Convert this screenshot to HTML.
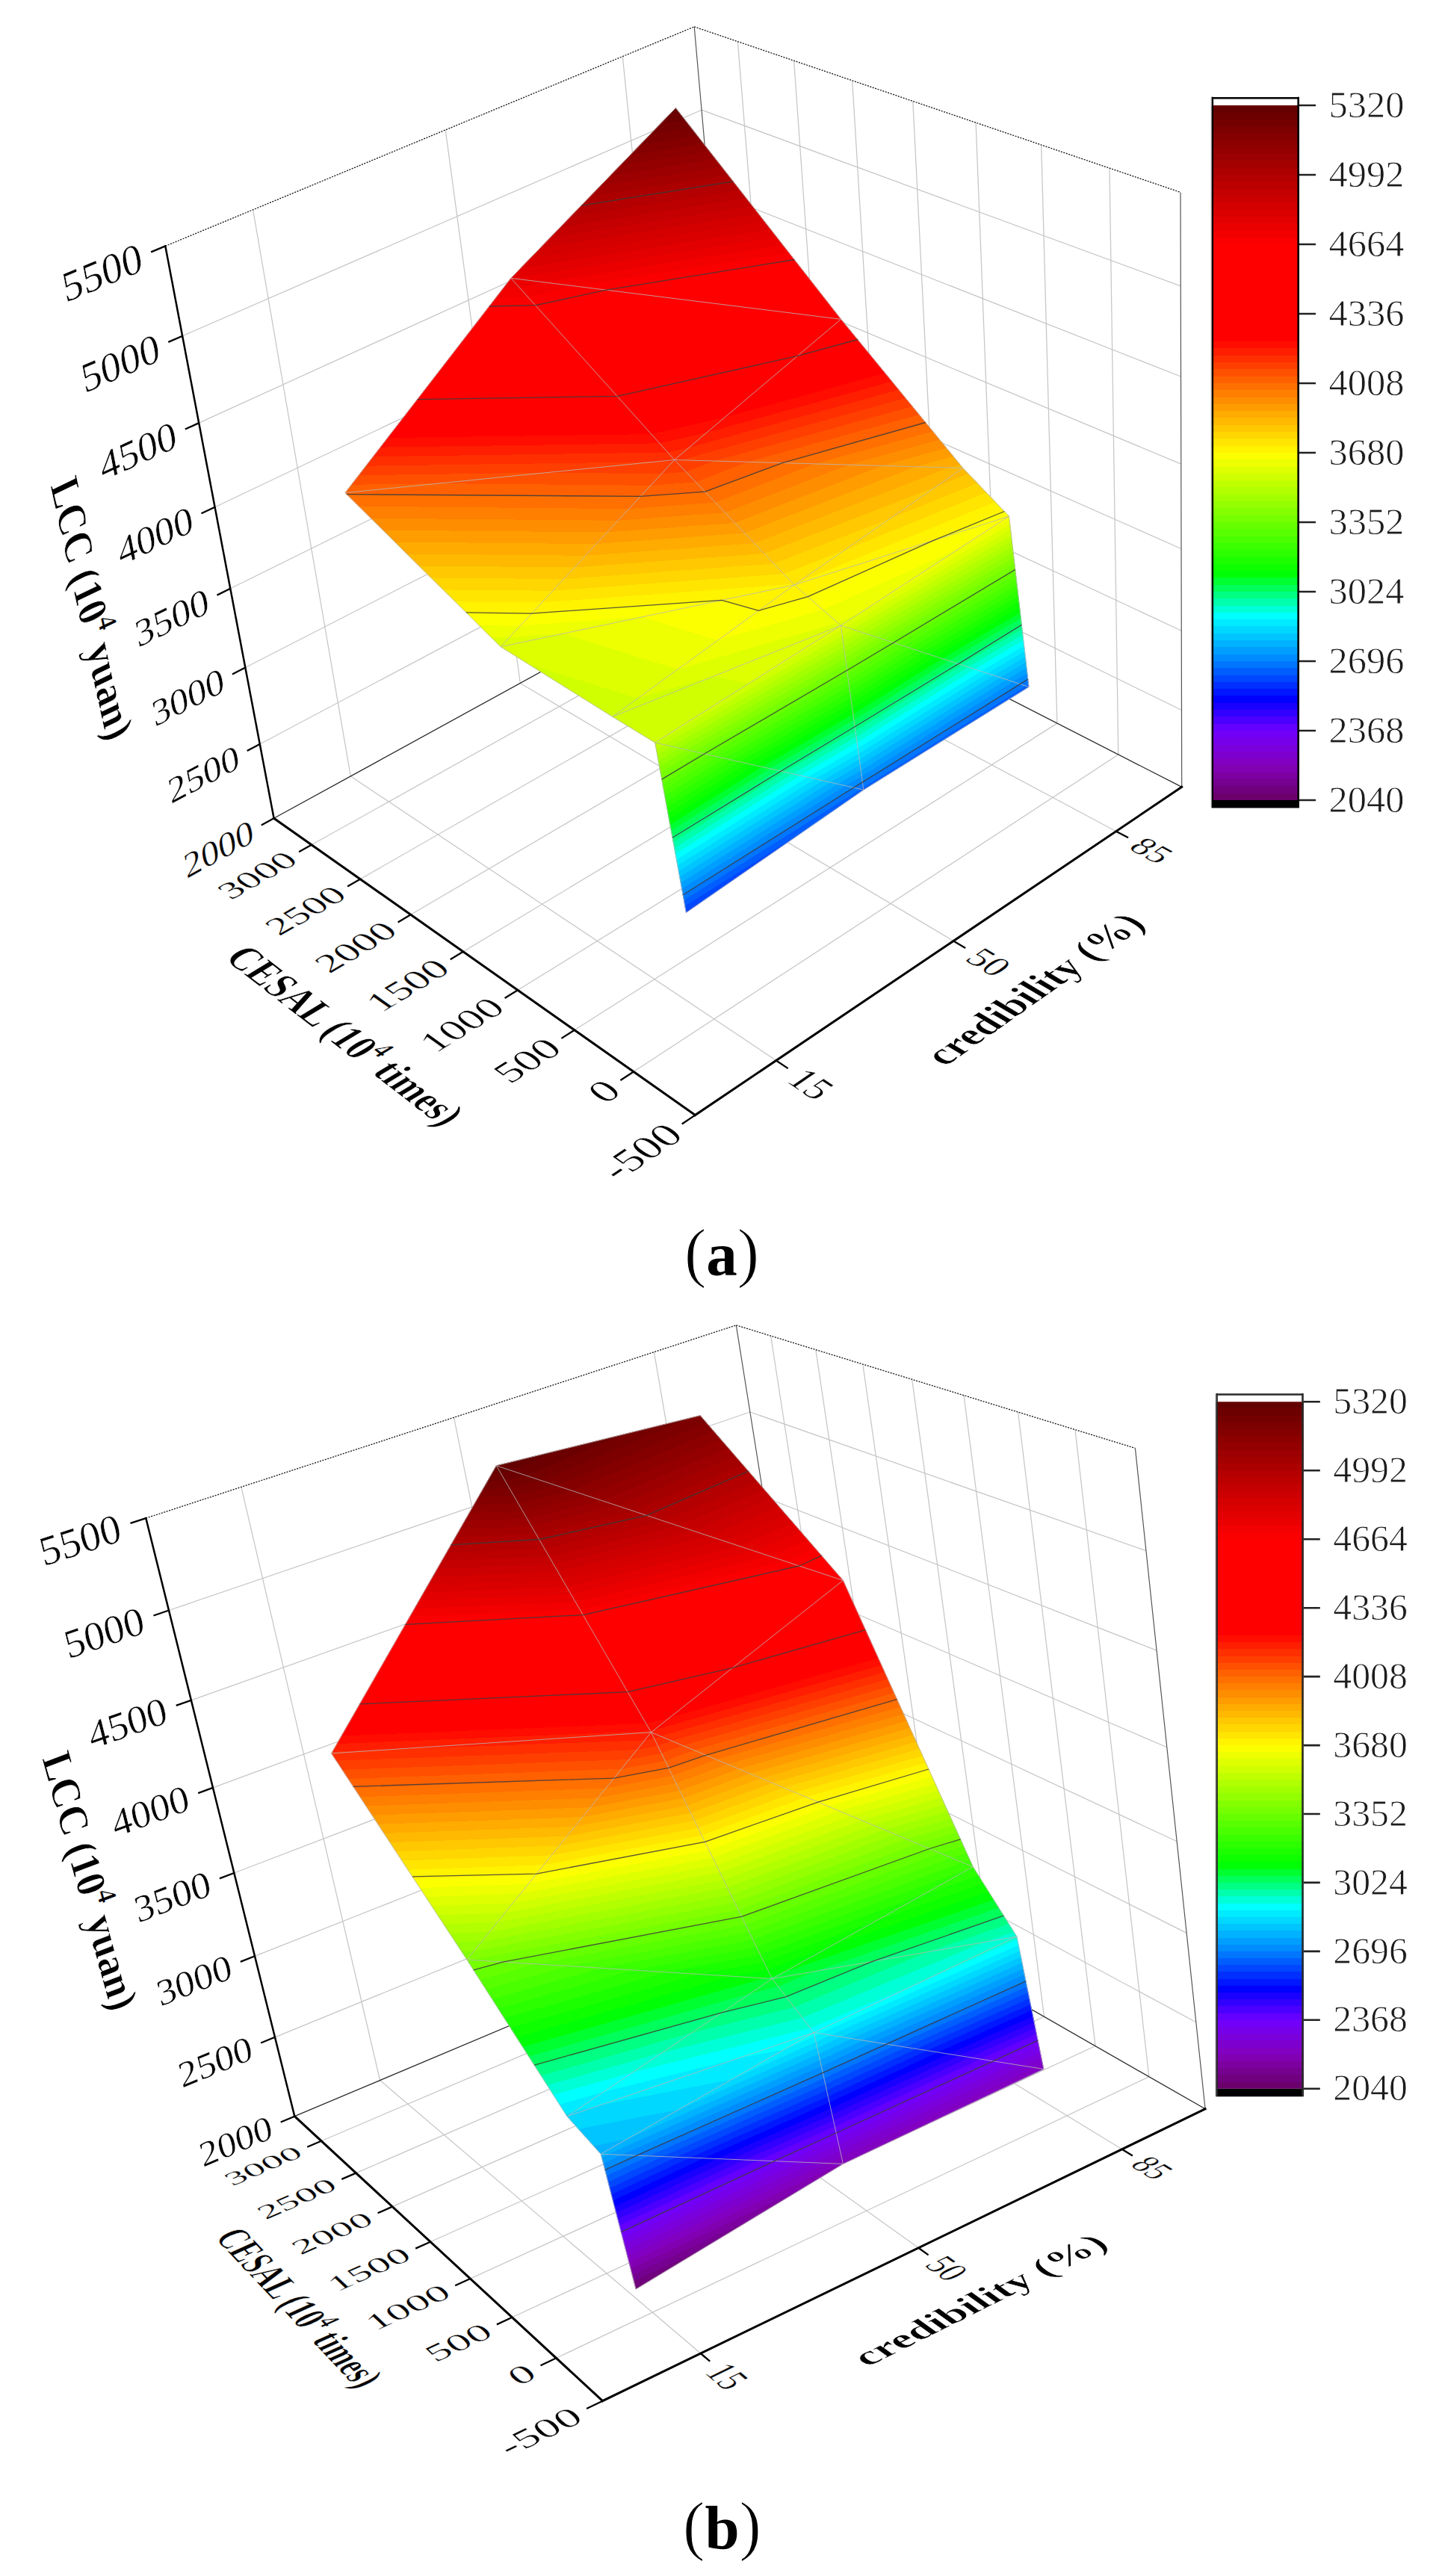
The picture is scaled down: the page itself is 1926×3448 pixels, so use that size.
<!DOCTYPE html>
<html><head><meta charset="utf-8"><title>LCC surface plots</title><style>html,body{margin:0;padding:0;background:#fff}svg{display:block}</style></head><body>
<svg width="1926" height="3448" viewBox="0 0 1926 3448" font-family="'Liberation Serif', serif">
<defs><linearGradient id="cm"><stop offset="0" stop-color="#6b006d"/><stop offset="0.01" stop-color="#6b006d"/><stop offset="0.01" stop-color="#70007e"/><stop offset="0.02" stop-color="#70007e"/><stop offset="0.02" stop-color="#76008f"/><stop offset="0.03" stop-color="#76008f"/><stop offset="0.03" stop-color="#7c00a0"/><stop offset="0.04" stop-color="#7c00a0"/><stop offset="0.04" stop-color="#8100b1"/><stop offset="0.05" stop-color="#8100b1"/><stop offset="0.05" stop-color="#8200c1"/><stop offset="0.06" stop-color="#8200c1"/><stop offset="0.06" stop-color="#7e00cf"/><stop offset="0.07" stop-color="#7e00cf"/><stop offset="0.07" stop-color="#7a00dc"/><stop offset="0.08" stop-color="#7a00dc"/><stop offset="0.08" stop-color="#7600ea"/><stop offset="0.09" stop-color="#7600ea"/><stop offset="0.09" stop-color="#7200f8"/><stop offset="0.1" stop-color="#7200f8"/><stop offset="0.1" stop-color="#6400ff"/><stop offset="0.11" stop-color="#6400ff"/><stop offset="0.11" stop-color="#4b00ff"/><stop offset="0.12" stop-color="#4b00ff"/><stop offset="0.12" stop-color="#3200ff"/><stop offset="0.13" stop-color="#3200ff"/><stop offset="0.13" stop-color="#1900ff"/><stop offset="0.14" stop-color="#1900ff"/><stop offset="0.14" stop-color="#0000ff"/><stop offset="0.15" stop-color="#0000ff"/><stop offset="0.15" stop-color="#0017ff"/><stop offset="0.16" stop-color="#0017ff"/><stop offset="0.16" stop-color="#002fff"/><stop offset="0.17" stop-color="#002fff"/><stop offset="0.17" stop-color="#0047ff"/><stop offset="0.18" stop-color="#0047ff"/><stop offset="0.18" stop-color="#005eff"/><stop offset="0.19" stop-color="#005eff"/><stop offset="0.19" stop-color="#0076ff"/><stop offset="0.2" stop-color="#0076ff"/><stop offset="0.2" stop-color="#008cff"/><stop offset="0.21" stop-color="#008cff"/><stop offset="0.21" stop-color="#009fff"/><stop offset="0.22" stop-color="#009fff"/><stop offset="0.22" stop-color="#00b2ff"/><stop offset="0.23" stop-color="#00b2ff"/><stop offset="0.23" stop-color="#00c5ff"/><stop offset="0.24" stop-color="#00c5ff"/><stop offset="0.24" stop-color="#00d8ff"/><stop offset="0.25" stop-color="#00d8ff"/><stop offset="0.25" stop-color="#00ebff"/><stop offset="0.26" stop-color="#00ebff"/><stop offset="0.26" stop-color="#00ffff"/><stop offset="0.27" stop-color="#00ffff"/><stop offset="0.27" stop-color="#00ffd6"/><stop offset="0.28" stop-color="#00ffd6"/><stop offset="0.28" stop-color="#00ffad"/><stop offset="0.29" stop-color="#00ffad"/><stop offset="0.29" stop-color="#00ff83"/><stop offset="0.3" stop-color="#00ff83"/><stop offset="0.3" stop-color="#00ff5a"/><stop offset="0.31" stop-color="#00ff5a"/><stop offset="0.31" stop-color="#00ff30"/><stop offset="0.32" stop-color="#00ff30"/><stop offset="0.32" stop-color="#00ff06"/><stop offset="0.33" stop-color="#00ff06"/><stop offset="0.33" stop-color="#0dff00"/><stop offset="0.34" stop-color="#0dff00"/><stop offset="0.34" stop-color="#1cff00"/><stop offset="0.35" stop-color="#1cff00"/><stop offset="0.35" stop-color="#2bff00"/><stop offset="0.36" stop-color="#2bff00"/><stop offset="0.36" stop-color="#3aff00"/><stop offset="0.37" stop-color="#3aff00"/><stop offset="0.37" stop-color="#49ff00"/><stop offset="0.38" stop-color="#49ff00"/><stop offset="0.38" stop-color="#57ff00"/><stop offset="0.39" stop-color="#57ff00"/><stop offset="0.39" stop-color="#66ff00"/><stop offset="0.4" stop-color="#66ff00"/><stop offset="0.4" stop-color="#75ff00"/><stop offset="0.41" stop-color="#75ff00"/><stop offset="0.41" stop-color="#84ff00"/><stop offset="0.42" stop-color="#84ff00"/><stop offset="0.42" stop-color="#93ff00"/><stop offset="0.43" stop-color="#93ff00"/><stop offset="0.43" stop-color="#a2ff00"/><stop offset="0.44" stop-color="#a2ff00"/><stop offset="0.44" stop-color="#b1ff00"/><stop offset="0.45" stop-color="#b1ff00"/><stop offset="0.45" stop-color="#c0ff00"/><stop offset="0.46" stop-color="#c0ff00"/><stop offset="0.46" stop-color="#cfff00"/><stop offset="0.47" stop-color="#cfff00"/><stop offset="0.47" stop-color="#deff00"/><stop offset="0.48" stop-color="#deff00"/><stop offset="0.48" stop-color="#edff00"/><stop offset="0.49" stop-color="#edff00"/><stop offset="0.49" stop-color="#fcff00"/><stop offset="0.5" stop-color="#fcff00"/><stop offset="0.5" stop-color="#fff300"/><stop offset="0.51" stop-color="#fff300"/><stop offset="0.51" stop-color="#ffe500"/><stop offset="0.52" stop-color="#ffe500"/><stop offset="0.52" stop-color="#ffd600"/><stop offset="0.53" stop-color="#ffd600"/><stop offset="0.53" stop-color="#ffc800"/><stop offset="0.54" stop-color="#ffc800"/><stop offset="0.54" stop-color="#ffb900"/><stop offset="0.55" stop-color="#ffb900"/><stop offset="0.55" stop-color="#ffab00"/><stop offset="0.56" stop-color="#ffab00"/><stop offset="0.56" stop-color="#ff9c00"/><stop offset="0.57" stop-color="#ff9c00"/><stop offset="0.57" stop-color="#ff8d00"/><stop offset="0.58" stop-color="#ff8d00"/><stop offset="0.58" stop-color="#ff7f00"/><stop offset="0.59" stop-color="#ff7f00"/><stop offset="0.59" stop-color="#ff7000"/><stop offset="0.6" stop-color="#ff7000"/><stop offset="0.6" stop-color="#ff6100"/><stop offset="0.61" stop-color="#ff6100"/><stop offset="0.61" stop-color="#ff5000"/><stop offset="0.62" stop-color="#ff5000"/><stop offset="0.62" stop-color="#ff3f00"/><stop offset="0.63" stop-color="#ff3f00"/><stop offset="0.63" stop-color="#ff2f00"/><stop offset="0.64" stop-color="#ff2f00"/><stop offset="0.64" stop-color="#ff1e00"/><stop offset="0.65" stop-color="#ff1e00"/><stop offset="0.65" stop-color="#ff0d00"/><stop offset="0.66" stop-color="#ff0d00"/><stop offset="0.66" stop-color="#ff0000"/><stop offset="0.67" stop-color="#ff0000"/><stop offset="0.67" stop-color="#ff0000"/><stop offset="0.68" stop-color="#ff0000"/><stop offset="0.68" stop-color="#ff0000"/><stop offset="0.69" stop-color="#ff0000"/><stop offset="0.69" stop-color="#ff0000"/><stop offset="0.7" stop-color="#ff0000"/><stop offset="0.7" stop-color="#ff0000"/><stop offset="0.71" stop-color="#ff0000"/><stop offset="0.71" stop-color="#ff0000"/><stop offset="0.72" stop-color="#ff0000"/><stop offset="0.72" stop-color="#ff0000"/><stop offset="0.73" stop-color="#ff0000"/><stop offset="0.73" stop-color="#ff0000"/><stop offset="0.74" stop-color="#ff0000"/><stop offset="0.74" stop-color="#ff0000"/><stop offset="0.75" stop-color="#ff0000"/><stop offset="0.75" stop-color="#ff0000"/><stop offset="0.76" stop-color="#ff0000"/><stop offset="0.76" stop-color="#ff0000"/><stop offset="0.77" stop-color="#ff0000"/><stop offset="0.77" stop-color="#ff0000"/><stop offset="0.78" stop-color="#ff0000"/><stop offset="0.78" stop-color="#ff0000"/><stop offset="0.79" stop-color="#ff0000"/><stop offset="0.79" stop-color="#ff0000"/><stop offset="0.8" stop-color="#ff0000"/><stop offset="0.8" stop-color="#fb0000"/><stop offset="0.81" stop-color="#fb0000"/><stop offset="0.81" stop-color="#f30000"/><stop offset="0.82" stop-color="#f30000"/><stop offset="0.82" stop-color="#eb0000"/><stop offset="0.83" stop-color="#eb0000"/><stop offset="0.83" stop-color="#e30000"/><stop offset="0.84" stop-color="#e30000"/><stop offset="0.84" stop-color="#db0000"/><stop offset="0.85" stop-color="#db0000"/><stop offset="0.85" stop-color="#d40000"/><stop offset="0.86" stop-color="#d40000"/><stop offset="0.86" stop-color="#cc0000"/><stop offset="0.87" stop-color="#cc0000"/><stop offset="0.87" stop-color="#c40000"/><stop offset="0.88" stop-color="#c40000"/><stop offset="0.88" stop-color="#bc0000"/><stop offset="0.89" stop-color="#bc0000"/><stop offset="0.89" stop-color="#b40000"/><stop offset="0.9" stop-color="#b40000"/><stop offset="0.9" stop-color="#ac0000"/><stop offset="0.91" stop-color="#ac0000"/><stop offset="0.91" stop-color="#a40000"/><stop offset="0.92" stop-color="#a40000"/><stop offset="0.92" stop-color="#9c0000"/><stop offset="0.93" stop-color="#9c0000"/><stop offset="0.93" stop-color="#940000"/><stop offset="0.94" stop-color="#940000"/><stop offset="0.94" stop-color="#8c0000"/><stop offset="0.95" stop-color="#8c0000"/><stop offset="0.95" stop-color="#840000"/><stop offset="0.96" stop-color="#840000"/><stop offset="0.96" stop-color="#7c0000"/><stop offset="0.97" stop-color="#7c0000"/><stop offset="0.97" stop-color="#740000"/><stop offset="0.98" stop-color="#740000"/><stop offset="0.98" stop-color="#6c0000"/><stop offset="0.99" stop-color="#6c0000"/><stop offset="0.99" stop-color="#640000"/><stop offset="1" stop-color="#640000"/></linearGradient></defs>
<rect width="1926" height="3448" fill="#fff"/>
<path d="M469.3 1039L338.6 280.7M1038.8 1419.5L469.3 1039M696.3 914.5L596.2 173.9M1276.1 1259.5L696.3 914.5M906.8 799L833.3 75.6M1493.8 1112.7L906.8 799M1496.8 1010L1485 225.1M848 1434.5L1496.8 1010M1414.9 968.1L1393.7 194M768.9 1378.8L1414.9 968.1M1335.9 927.7L1306.1 164.2M693 1325.3L1335.9 927.7M1259.7 888.7L1221.8 135.5M620 1273.8L1259.7 888.7M1186 851L1140.7 107.9M549.7 1224.3L1186 851M1114.8 814.6L1062.6 81.3M482.1 1176.7L1114.8 814.6M1046 779.4L987.4 55.7M417 1130.8L1046 779.4M347.8 996L984.2 658.2M984.2 658.2L1581.5 950.5M328.3 893.5L975.7 561.7M975.7 561.7L1581.3 844.2M308.3 787.8L966.9 462.4M966.9 462.4L1581 734.5M287.6 678.7L957.9 360.4M957.9 360.4L1580.8 621.2M266.2 566.1L948.6 255.3M948.6 255.3L1580.5 504M244.1 449.7L939 147.2M939 147.2L1580.3 382.8" fill="none" stroke="#c6c6c6" stroke-width="1.25"/>
<path d="M221.3 329.4L929.2 35.8M929.2 35.8L1580 257.4" fill="none" stroke="#111" stroke-width="1.3" stroke-dasharray="2 1.6"/>
<path d="M929.2 35.8L992.5 752M1580 257.4L1581.7 1053.4" fill="none" stroke="#555" stroke-width="1.2"/>
<path d="M366.6 1095.3L992.5 752M992.5 752L1581.7 1053.4" fill="none" stroke="#2a2a2a" stroke-width="1.3"/>
<defs><linearGradient id="ag0" href="#cm" gradientUnits="userSpaceOnUse" x1="472.6" y1="1405.1" x2="455.0" y2="165.4"/><linearGradient id="ag1" href="#cm" gradientUnits="userSpaceOnUse" x1="453.1" y1="1609.6" x2="467.9" y2="29.9"/><linearGradient id="ag2" href="#cm" gradientUnits="userSpaceOnUse" x1="720.4" y1="1551.2" x2="614.1" y2="99.3"/><linearGradient id="ag3" href="#cm" gradientUnits="userSpaceOnUse" x1="-76.0" y1="3254.0" x2="1504.4" y2="-1804.4"/><linearGradient id="ag4" href="#cm" gradientUnits="userSpaceOnUse" x1="1108.7" y1="1952.7" x2="485.6" y2="-189.6"/><linearGradient id="ag5" href="#cm" gradientUnits="userSpaceOnUse" x1="-359.0" y1="6710.7" x2="2183.1" y2="-5692.4"/><linearGradient id="ag6" href="#cm" gradientUnits="userSpaceOnUse" x1="1039.5" y1="1275.6" x2="687.1" y2="665.9"/><linearGradient id="ag7" href="#cm" gradientUnits="userSpaceOnUse" x1="1056.9" y1="1280.3" x2="666.8" y2="660.5"/><linearGradient id="ag8" href="#cm" gradientUnits="userSpaceOnUse" x1="832.2" y1="1322.6" x2="653.6" y2="178.4"/><linearGradient id="ag9" href="#cm" gradientUnits="userSpaceOnUse" x1="950.5" y1="1537.4" x2="629.5" y2="134.6"/><linearGradient id="ag10" href="#cm" gradientUnits="userSpaceOnUse" x1="1123.5" y1="1416.9" x2="774.1" y2="148.7"/><linearGradient id="ag11" href="#cm" gradientUnits="userSpaceOnUse" x1="1302.0" y1="1643.1" x2="670.1" y2="16.8"/><linearGradient id="ag12" href="#cm" gradientUnits="userSpaceOnUse" x1="1375.7" y1="1551.0" x2="761.8" y2="42.5"/><linearGradient id="ag13" href="#cm" gradientUnits="userSpaceOnUse" x1="1567.4" y1="1901.4" x2="576.9" y2="-295.3"/><linearGradient id="ag14" href="#cm" gradientUnits="userSpaceOnUse" x1="1290.5" y1="1116.9" x2="945.1" y2="531.8"/><linearGradient id="ag15" href="#cm" gradientUnits="userSpaceOnUse" x1="1301.1" y1="1118.6" x2="933.6" y2="529.9"/></defs>
<g stroke-width="0.9" stroke-linejoin="round"><path d="M462 659.6L683.9 372.3L902.7 615.5Z" fill="url(#ag0)" stroke="url(#ag0)"/><path d="M462 659.6L902.7 615.5L670.2 865.7Z" fill="url(#ag1)" stroke="url(#ag1)"/><path d="M670.2 865.7L902.7 615.5L1063.1 782.9Z" fill="url(#ag2)" stroke="url(#ag2)"/><path d="M670.2 865.7L1063.1 782.9L819.8 959.3Z" fill="url(#ag3)" stroke="url(#ag3)"/><path d="M819.8 959.3L1063.1 782.9L1125.4 837.2Z" fill="url(#ag4)" stroke="url(#ag4)"/><path d="M819.8 959.3L1125.4 837.2L876.7 994Z" fill="url(#ag5)" stroke="url(#ag5)"/><path d="M876.7 994L1125.4 837.2L1155.8 1057.2Z" fill="url(#ag6)" stroke="url(#ag6)"/><path d="M876.7 994L1155.8 1057.2L918.4 1221.4Z" fill="url(#ag7)" stroke="url(#ag7)"/><path d="M683.9 372.3L904.4 144.5L1125.6 427.3Z" fill="url(#ag8)" stroke="url(#ag8)"/><path d="M683.9 372.3L1125.6 427.3L902.7 615.5Z" fill="url(#ag9)" stroke="url(#ag9)"/><path d="M902.7 615.5L1125.6 427.3L1288.8 626.5Z" fill="url(#ag10)" stroke="url(#ag10)"/><path d="M902.7 615.5L1288.8 626.5L1063.1 782.9Z" fill="url(#ag11)" stroke="url(#ag11)"/><path d="M1063.1 782.9L1288.8 626.5L1350.5 691Z" fill="url(#ag12)" stroke="url(#ag12)"/><path d="M1063.1 782.9L1350.5 691L1125.4 837.2Z" fill="url(#ag13)" stroke="url(#ag13)"/><path d="M1125.4 837.2L1350.5 691L1377 919.4Z" fill="url(#ag14)" stroke="url(#ag14)"/><path d="M1125.4 837.2L1377 919.4L1155.8 1057.2Z" fill="url(#ag15)" stroke="url(#ag15)"/></g>
<path d="M462 659.6L683.9 372.3M683.9 372.3L902.7 615.5M902.7 615.5L462 659.6M902.7 615.5L670.2 865.7M670.2 865.7L462 659.6M902.7 615.5L1063.1 782.9M1063.1 782.9L670.2 865.7M1063.1 782.9L819.8 959.3M819.8 959.3L670.2 865.7M1063.1 782.9L1125.4 837.2M1125.4 837.2L819.8 959.3M1125.4 837.2L876.7 994M876.7 994L819.8 959.3M1125.4 837.2L1155.8 1057.2M1155.8 1057.2L876.7 994M1155.8 1057.2L918.4 1221.4M918.4 1221.4L876.7 994M683.9 372.3L904.4 144.5M904.4 144.5L1125.6 427.3M1125.6 427.3L683.9 372.3M1125.6 427.3L902.7 615.5M1125.6 427.3L1288.8 626.5M1288.8 626.5L902.7 615.5M1288.8 626.5L1063.1 782.9M1288.8 626.5L1350.5 691M1350.5 691L1063.1 782.9M1350.5 691L1125.4 837.2M1350.5 691L1377 919.4M1377 919.4L1125.4 837.2M1377 919.4L1155.8 1057.2" fill="none" stroke="#b8b8b8" stroke-opacity=".8" stroke-width="1"/>
<path d="M1154.4 1046.9L1142.5 1054.2M1142.5 1054.2L914.1 1197.8M1375.8 909L1365.4 915.6M1365.4 915.6L1154.4 1046.9M1144.1 972.7L1045.2 1032.2M1045.2 1032.2L900 1121.2M1367.4 836.4L1282.7 888.6M1282.7 888.6L1144.1 972.7M1133.7 897.2L942.9 1009M942.9 1009L885.7 1043.1M1358.8 762.4L1196 860.3M1196 860.3L1133.7 897.2M711.6 821.1L623.9 819.9M711.6 821.1L966 803.4M966 803.4L1015.6 817.3M1015.6 817.3L1081.3 798.7M1344.3 684.5L1249.9 723.2M1249.9 723.2L1081.3 798.7M857.3 664.4L464.1 661.7M857.3 664.4L943.6 658.2M1238.8 565.5L1047.2 619.6M1047.2 619.6L943.6 658.2M558.5 534.7L826.1 530.4M1067.5 476.4L826.1 530.4M1067.5 476.4L1147.9 454.5M654.8 410L716.7 408.7M1063.2 347.5L811.6 388.2M811.6 388.2L716.7 408.7M778 275.1L981.3 242.9" fill="none" stroke="#3c3c3c" stroke-opacity=".85" stroke-width="1.3"/>
<path d="M221.3 329.4L366.6 1095.3" fill="none" stroke="#000" stroke-width="2.5" stroke-linecap="square"/>
<path d="M366.6 1095.3L930.4 1492.6M930.4 1492.6L1581.7 1053.4" fill="none" stroke="#000" stroke-width="3" stroke-linecap="square"/>
<path d="M366.6 1095.3L349.8 1104.5M347.8 996L330.7 1005M328.3 893.5L310.9 902.4M308.3 787.8L290.5 796.6M287.6 678.7L269.5 687.3M266.2 566.1L247.8 574.5M244.1 449.7L225.3 457.9M221.3 329.4L202.1 337.4M930.4 1492.6L912.7 1504.5M848 1434.5L830.4 1446M768.9 1378.8L751.4 1389.9M693 1325.3L675.6 1336M620 1273.8L602.7 1284.2M549.7 1224.3L532.6 1234.4M482.1 1176.7L465.1 1186.4M417 1130.8L400.1 1140.2M1038.8 1419.5L1054.7 1430.1M1276.1 1259.5L1292.2 1269.1M1493.8 1112.7L1510.1 1121.3" fill="none" stroke="#000" stroke-width="2.3"/>
<g font-size="100" fill="#000" stroke="#fff" stroke-width="1"><text transform="matrix(0.4603 -0.2525 0.0874 0.4496 338.6 1110.7)" x="0.0" y="33.8" text-anchor="end">2000</text><text transform="matrix(0.4689 -0.2489 0.0902 0.4636 319.3 1011.1)" x="0.0" y="33.8" text-anchor="end">2500</text><text transform="matrix(0.4777 -0.2449 0.0930 0.4782 299.3 908.4)" x="0.0" y="33.8" text-anchor="end">3000</text><text transform="matrix(0.4869 -0.2406 0.0960 0.4935 278.7 802.4)" x="0.0" y="33.8" text-anchor="end">3500</text><text transform="matrix(0.4965 -0.2358 0.0991 0.5096 257.4 693.1)" x="0.0" y="33.8" text-anchor="end">4000</text><text transform="matrix(0.5064 -0.2306 0.1024 0.5264 235.4 580.1)" x="0.0" y="33.8" text-anchor="end">4500</text><text transform="matrix(0.5167 -0.2249 0.1058 0.5441 212.7 463.4)" x="0.0" y="33.8" text-anchor="end">5000</text><text transform="matrix(0.5274 -0.2187 0.1095 0.5628 189.3 342.7)" x="0.0" y="33.8" text-anchor="end">5500</text><text transform="matrix(0.4874 -0.3286 0.4290 0.3064 902.6 1511.3)" x="0.0" y="33.8" text-anchor="end">-500</text><text transform="matrix(0.4842 -0.3169 0.4115 0.2939 820.4 1452.6)" x="0.0" y="33.8" text-anchor="end">0</text><text transform="matrix(0.4810 -0.3058 0.3949 0.2821 741.5 1396.3)" x="0.0" y="33.8" text-anchor="end">500</text><text transform="matrix(0.4775 -0.2953 0.3794 0.2710 665.7 1342.1)" x="0.0" y="33.8" text-anchor="end">1000</text><text transform="matrix(0.4740 -0.2854 0.3647 0.2605 592.9 1290.1)" x="0.0" y="33.8" text-anchor="end">1500</text><text transform="matrix(0.4704 -0.2760 0.3509 0.2506 522.9 1240.1)" x="0.0" y="33.8" text-anchor="end">2000</text><text transform="matrix(0.4668 -0.2672 0.3379 0.2413 455.5 1192.0)" x="0.0" y="33.8" text-anchor="end">2500</text><text transform="matrix(0.4631 -0.2587 0.3255 0.2325 390.5 1145.6)" x="0.0" y="33.8" text-anchor="end">3000</text><text transform="matrix(0.4036 0.2697 -0.4277 0.2912 1065.4 1437.3)" x="0.0" y="33.8" text-anchor="start">15</text><text transform="matrix(0.4083 0.2429 -0.3914 0.2665 1303.1 1275.5)" x="0.0" y="33.8" text-anchor="start">50</text><text transform="matrix(0.4108 0.2195 -0.3595 0.2448 1520.9 1127.2)" x="0.0" y="33.8" text-anchor="start">85</text><text transform="matrix(0.1132 0.5129 -0.5216 0.2524 105.6 822.7)" x="0.0" y="0.0" text-anchor="middle" font-weight="bold" stroke-width="1.4">LCC (10<tspan font-size="66" dy="-40">4</tspan><tspan dy="40"> </tspan>yuan)</text><text transform="matrix(0.3635 0.2815 -0.5045 0.3051 445.3 1396.2)" x="0.0" y="0.0" text-anchor="middle" font-weight="bold" stroke-width="1.4">CESAL (10<tspan font-size="66" dy="-40">4</tspan><tspan dy="40"> </tspan>times)</text><text transform="matrix(0.4301 -0.3031 0.4672 0.2779 1400.0 1333.2)" x="0.0" y="0.0" text-anchor="middle" font-weight="bold" stroke-width="1.4">credibility (%)</text></g>
<path d="M508.6 2784.5L322.9 1990.4M937.7 3150L508.6 2784.5M764.8 2676.6L607.6 1897.3M1229.3 3008.8L764.8 2676.6M1006.8 2574.6L875.4 1809.7M1501.7 2876.7L1006.8 2574.6M1537.9 2779.7L1439 1913.6M744.5 3156.3L1537.9 2779.7M1466.1 2738.5L1362.6 1890M685.5 3101.8L1466.1 2738.5M1397.5 2699.2L1290 1867.7M629.4 3050L1397.5 2699.2M1331.9 2661.7L1220.7 1846.3M576 3000.7L1331.9 2661.7M1269 2625.7L1154.8 1826M525.1 2953.6L1269 2625.7M1208.8 2591.2L1091.8 1806.6M476.5 2908.6L1208.8 2591.2M1151.1 2558.1L1031.6 1788M430 2865.7L1151.1 2558.1M367.9 2726.8L1090.4 2431.6M1090.4 2431.6L1600.8 2706.7M341 2618.3L1073.9 2328.3M1073.9 2328.3L1588.2 2587.4M313.3 2507L1057 2222.6M1057 2222.6L1575.2 2464.8M284.9 2392.9L1039.7 2114.3M1039.7 2114.3L1561.8 2338.8M255.8 2275.8L1022 2003.5M1022 2003.5L1548.1 2209.1M225.9 2155.5L1003.9 1890M1003.9 1890L1533.9 2075.7" fill="none" stroke="#c6c6c6" stroke-width="1.25"/>
<path d="M195.3 2032.1L985.3 1773.8M985.3 1773.8L1519.4 1938.4" fill="none" stroke="#111" stroke-width="1.3" stroke-dasharray="2 1.6"/>
<path d="M985.3 1773.8L1106.5 2532.6M1519.4 1938.4L1613.1 2822.8" fill="none" stroke="#555" stroke-width="1.2"/>
<path d="M394.3 2832.7L1106.5 2532.6M1106.5 2532.6L1613.1 2822.8" fill="none" stroke="#2a2a2a" stroke-width="1.3"/>
<defs><linearGradient id="bg0" href="#cm" gradientUnits="userSpaceOnUse" x1="470.7" y1="3009.5" x2="428.2" y2="1971.0"/><linearGradient id="bg1" href="#cm" gradientUnits="userSpaceOnUse" x1="472.2" y1="3140.6" x2="427.4" y2="1896.6"/><linearGradient id="bg2" href="#cm" gradientUnits="userSpaceOnUse" x1="705.8" y1="3055.6" x2="509.2" y2="2003.5"/><linearGradient id="bg3" href="#cm" gradientUnits="userSpaceOnUse" x1="789.1" y1="3199.5" x2="389.9" y2="1797.3"/><linearGradient id="bg4" href="#cm" gradientUnits="userSpaceOnUse" x1="855.1" y1="3218.9" x2="467.0" y2="1659.3"/><linearGradient id="bg5" href="#cm" gradientUnits="userSpaceOnUse" x1="881.8" y1="3463.9" x2="385.7" y2="914.4"/><linearGradient id="bg6" href="#cm" gradientUnits="userSpaceOnUse" x1="878.4" y1="3050.2" x2="548.9" y2="2308.4"/><linearGradient id="bg7" href="#cm" gradientUnits="userSpaceOnUse" x1="884.4" y1="3055.1" x2="528.2" y2="2291.9"/><linearGradient id="bg8" href="#cm" gradientUnits="userSpaceOnUse" x1="1209.4" y1="3260.1" x2="664.1" y2="1961.3"/><linearGradient id="bg9" href="#cm" gradientUnits="userSpaceOnUse" x1="923.6" y1="3055.7" x2="664.2" y2="1961.4"/><linearGradient id="bg10" href="#cm" gradientUnits="userSpaceOnUse" x1="1052.1" y1="2950.6" x2="773.5" y2="1975.9"/><linearGradient id="bg11" href="#cm" gradientUnits="userSpaceOnUse" x1="1119.0" y1="2991.0" x2="737.2" y2="1954.0"/><linearGradient id="bg12" href="#cm" gradientUnits="userSpaceOnUse" x1="1162.5" y1="3021.4" x2="756.2" y2="1847.3"/><linearGradient id="bg13" href="#cm" gradientUnits="userSpaceOnUse" x1="1239.6" y1="3145.6" x2="590.5" y2="1580.3"/><linearGradient id="bg14" href="#cm" gradientUnits="userSpaceOnUse" x1="1174.9" y1="2912.7" x2="852.7" y2="2189.6"/><linearGradient id="bg15" href="#cm" gradientUnits="userSpaceOnUse" x1="1179.6" y1="2915.7" x2="839.7" y2="2181.4"/></defs>
<g stroke-width="0.9" stroke-linejoin="round"><path d="M443.6 2346.9L664.3 1961.8L871.5 2318.7Z" fill="url(#bg0)" stroke="url(#bg0)"/><path d="M443.6 2346.9L871.5 2318.7L625 2623.1Z" fill="url(#bg1)" stroke="url(#bg1)"/><path d="M625 2623.1L871.5 2318.7L1033.5 2648.6Z" fill="url(#bg2)" stroke="url(#bg2)"/><path d="M625 2623.1L1033.5 2648.6L759 2832.8Z" fill="url(#bg3)" stroke="url(#bg3)"/><path d="M759 2832.8L1033.5 2648.6L1089.3 2720.6Z" fill="url(#bg4)" stroke="url(#bg4)"/><path d="M759 2832.8L1089.3 2720.6L804.2 2883.2Z" fill="url(#bg5)" stroke="url(#bg5)"/><path d="M804.2 2883.2L1089.3 2720.6L1128.4 2896.4Z" fill="url(#bg6)" stroke="url(#bg6)"/><path d="M804.2 2883.2L1128.4 2896.4L851.1 3063.9Z" fill="url(#bg7)" stroke="url(#bg7)"/><path d="M664.3 1961.8L937.2 1894.7L1128.4 2115.4Z" fill="url(#bg8)" stroke="url(#bg8)"/><path d="M664.3 1961.8L1128.4 2115.4L871.5 2318.7Z" fill="url(#bg9)" stroke="url(#bg9)"/><path d="M871.5 2318.7L1128.4 2115.4L1302.3 2498.8Z" fill="url(#bg10)" stroke="url(#bg10)"/><path d="M871.5 2318.7L1302.3 2498.8L1033.5 2648.6Z" fill="url(#bg11)" stroke="url(#bg11)"/><path d="M1033.5 2648.6L1302.3 2498.8L1360.9 2592.1Z" fill="url(#bg12)" stroke="url(#bg12)"/><path d="M1033.5 2648.6L1360.9 2592.1L1089.3 2720.6Z" fill="url(#bg13)" stroke="url(#bg13)"/><path d="M1089.3 2720.6L1360.9 2592.1L1396.9 2769.5Z" fill="url(#bg14)" stroke="url(#bg14)"/><path d="M1089.3 2720.6L1396.9 2769.5L1128.4 2896.4Z" fill="url(#bg15)" stroke="url(#bg15)"/></g>
<path d="M443.6 2346.9L664.3 1961.8M664.3 1961.8L871.5 2318.7M871.5 2318.7L443.6 2346.9M871.5 2318.7L625 2623.1M625 2623.1L443.6 2346.9M871.5 2318.7L1033.5 2648.6M1033.5 2648.6L625 2623.1M1033.5 2648.6L759 2832.8M759 2832.8L625 2623.1M1033.5 2648.6L1089.3 2720.6M1089.3 2720.6L759 2832.8M1089.3 2720.6L804.2 2883.2M804.2 2883.2L759 2832.8M1089.3 2720.6L1128.4 2896.4M1128.4 2896.4L804.2 2883.2M1128.4 2896.4L851.1 3063.9M851.1 3063.9L804.2 2883.2M664.3 1961.8L937.2 1894.7M937.2 1894.7L1128.4 2115.4M1128.4 2115.4L664.3 1961.8M1128.4 2115.4L871.5 2318.7M1128.4 2115.4L1302.3 2498.8M1302.3 2498.8L871.5 2318.7M1302.3 2498.8L1033.5 2648.6M1302.3 2498.8L1360.9 2592.1M1360.9 2592.1L1033.5 2648.6M1360.9 2592.1L1089.3 2720.6M1360.9 2592.1L1396.9 2769.5M1396.9 2769.5L1089.3 2720.6M1396.9 2769.5L1128.4 2896.4" fill="none" stroke="#b8b8b8" stroke-opacity=".8" stroke-width="1"/>
<path d="M1119.2 2855L1036.5 2892.7M1036.5 2892.7L831.3 2987.6M1389.1 2731.1L1329.3 2758.8M1329.3 2758.8L1119.2 2855M1101.2 2774.3L852.2 2885.2M852.2 2885.2L809.7 2904.4M1373 2651.8L1186.6 2736.1M1186.6 2736.1L1101.2 2774.3M966.2 2693.8L715.1 2764.1M966.2 2693.8L1052.2 2672.7M1343.4 2564.2L1167.8 2625.4M1167.8 2625.4L1052.2 2672.7M992.6 2565.4L673.2 2626.1M673.2 2626.1L633.8 2636.9M1285.5 2461.8L1244.1 2474.5M1244.1 2474.5L992.6 2565.4M718.2 2508.1L551.9 2511.8M718.2 2508.1L943.5 2465.3M1243 2368L1095 2412.1M1095 2412.1L943.5 2465.3M821.8 2380.1L472.9 2391.4M821.8 2380.1L894.8 2366.3M1200.6 2274.6L944.6 2349.3M944.6 2349.3L894.8 2366.3M481.4 2280.9L840.1 2264.7M980.6 2232.3L840.1 2264.7M980.6 2232.3L1158.4 2181.6M542.5 2174.3L780.3 2161.6M1099.6 2082.2L1069.8 2096M1069.8 2096L780.3 2161.6M603.5 2067.8L721.6 2060.5M1001.7 1969.2L865.6 2028.4M865.6 2028.4L721.6 2060.5" fill="none" stroke="#3c3c3c" stroke-opacity=".85" stroke-width="1.3"/>
<path d="M195.3 2032.1L394.3 2832.7" fill="none" stroke="#000" stroke-width="2.5" stroke-linecap="square"/>
<path d="M394.3 2832.7L806.5 3213.7M806.5 3213.7L1613.1 2822.8" fill="none" stroke="#000" stroke-width="3" stroke-linecap="square"/>
<path d="M394.3 2832.7L375.7 2840.5M367.9 2726.8L349.1 2734.5M341 2618.3L321.8 2625.9M313.3 2507L293.9 2514.4M284.9 2392.9L265.2 2400.2M255.8 2275.8L235.7 2282.9M225.9 2155.5L205.5 2162.5M195.3 2032.1L174.5 2038.9M806.5 3213.7L785.1 3224M744.5 3156.3L723.5 3166.3M685.5 3101.8L664.9 3111.4M629.4 3050L609.2 3059.3M576 3000.7L556.2 3009.6M525.1 2953.6L505.6 2962.2M476.5 2908.6L457.3 2916.9M430 2865.7L411.2 2873.7M937.7 3150L950.2 3160.6M1229.3 3008.8L1242.6 3018.4M1501.7 2876.7L1515.9 2885.4" fill="none" stroke="#000" stroke-width="2.3"/>
<g font-size="100" fill="#000" stroke="#fff" stroke-width="1"><text transform="matrix(0.4781 -0.2014 0.1139 0.4510 363.3 2845.7)" x="0.0" y="33.8" text-anchor="end">2000</text><text transform="matrix(0.4854 -0.1984 0.1168 0.4623 336.5 2739.7)" x="0.0" y="33.8" text-anchor="end">2500</text><text transform="matrix(0.4930 -0.1951 0.1197 0.4740 309.0 2630.9)" x="0.0" y="33.8" text-anchor="end">3000</text><text transform="matrix(0.5008 -0.1915 0.1228 0.4862 280.8 2519.4)" x="0.0" y="33.8" text-anchor="end">3500</text><text transform="matrix(0.5088 -0.1878 0.1260 0.4988 252.0 2405.0)" x="0.0" y="33.8" text-anchor="end">4000</text><text transform="matrix(0.5171 -0.1837 0.1293 0.5119 222.3 2287.7)" x="0.0" y="33.8" text-anchor="end">4500</text><text transform="matrix(0.5257 -0.1794 0.1328 0.5255 191.9 2167.2)" x="0.0" y="33.8" text-anchor="end">5000</text><text transform="matrix(0.5345 -0.1748 0.1363 0.5397 160.6 2043.5)" x="0.0" y="33.8" text-anchor="end">5500</text><text transform="matrix(0.5505 -0.2668 0.3023 0.2854 773.0 3229.9)" x="0.0" y="33.8" text-anchor="end">-500</text><text transform="matrix(0.5402 -0.2564 0.2870 0.2709 711.5 3171.9)" x="0.0" y="33.8" text-anchor="end">0</text><text transform="matrix(0.5301 -0.2467 0.2728 0.2575 653.2 3116.9)" x="0.0" y="33.8" text-anchor="end">500</text><text transform="matrix(0.5204 -0.2377 0.2597 0.2451 597.7 3064.5)" x="0.0" y="33.8" text-anchor="end">1000</text><text transform="matrix(0.5110 -0.2292 0.2474 0.2336 544.9 3014.6)" x="0.0" y="33.8" text-anchor="end">1500</text><text transform="matrix(0.5019 -0.2212 0.2361 0.2228 494.5 2967.1)" x="0.0" y="33.8" text-anchor="end">2000</text><text transform="matrix(0.4931 -0.2137 0.2254 0.2128 446.4 2921.7)" x="0.0" y="33.8" text-anchor="end">2500</text><text transform="matrix(0.4845 -0.2067 0.2155 0.2035 400.5 2878.3)" x="0.0" y="33.8" text-anchor="end">3000</text><text transform="matrix(0.2965 0.2526 -0.4905 0.2393 958.5 3167.8)" x="0.0" y="33.8" text-anchor="start">15</text><text transform="matrix(0.3189 0.2281 -0.4577 0.2233 1251.6 3024.8)" x="0.0" y="33.8" text-anchor="start">50</text><text transform="matrix(0.3379 0.2063 -0.4281 0.2088 1525.4 2891.2)" x="0.0" y="33.8" text-anchor="start">85</text><text transform="matrix(0.1384 0.5073 -0.5329 0.2003 102.8 2524.1)" x="0.0" y="0.0" text-anchor="middle" font-weight="bold" stroke-width="1.4">LCC (10<tspan font-size="66" dy="-40">4</tspan><tspan dy="40"> </tspan>yuan)</text><text transform="matrix(0.2385 0.2531 -0.5419 0.2436 382.8 3096.9)" x="0.0" y="0.0" text-anchor="middle" font-weight="bold" stroke-width="1.4">CESAL (10<tspan font-size="66" dy="-40">4</tspan><tspan dy="40"> </tspan>times)</text><text transform="matrix(0.5176 -0.2586 0.3730 0.2681 1323.7 3087.4)" x="0.0" y="0.0" text-anchor="middle" font-weight="bold" stroke-width="1.4">credibility (%)</text></g>
<defs><linearGradient id="cbg1621" href="#cm" gradientUnits="userSpaceOnUse" x1="0" y1="1071.0" x2="0" y2="141.0"/></defs>
<rect x="1621.6" y="131.0" width="117.4" height="12.0" fill="#fff"/>
<rect x="1621.6" y="141.0" width="117.4" height="930.0" fill="url(#cbg1621)"/>
<rect x="1621.6" y="1071.0" width="117.4" height="10.5" fill="#000"/>
<path d="M1622.8 129.7V1081.0M1737.7 129.7V1081.0M1621.6 131.2H1739.0" stroke="#000" stroke-width="2.6" fill="none"/>
<path d="M1621.0 131.0V1081.0" stroke="#c8c8c8" stroke-width="1" fill="none"/>
<path d="M1739.0 141.0H1761.0M1739.0 234.0H1761.0M1739.0 327.0H1761.0M1739.0 420.0H1761.0M1739.0 513.0H1761.0M1739.0 606.0H1761.0M1739.0 699.0H1761.0M1739.0 792.0H1761.0M1739.0 885.0H1761.0M1739.0 978.0H1761.0M1739.0 1071.0H1761.0" stroke="#222" stroke-width="2.6" fill="none"/>
<g font-size="50.5" fill="#1c1c1c" stroke="#fff" stroke-width=".8"><text x="1778.5" y="156.8">5320</text><text x="1778.5" y="249.8">4992</text><text x="1778.5" y="342.8">4664</text><text x="1778.5" y="435.8">4336</text><text x="1778.5" y="528.8">4008</text><text x="1778.5" y="621.8">3680</text><text x="1778.5" y="714.8">3352</text><text x="1778.5" y="807.8">3024</text><text x="1778.5" y="900.8">2696</text><text x="1778.5" y="993.8">2368</text><text x="1778.5" y="1086.8">2040</text></g>
<defs><linearGradient id="cbg1627" href="#cm" gradientUnits="userSpaceOnUse" x1="0" y1="2795.8" x2="0" y2="1876.3"/></defs>
<rect x="1627.4" y="1866.3" width="117.4" height="12.0" fill="#fff"/>
<rect x="1627.4" y="1876.3" width="117.4" height="919.5" fill="url(#cbg1627)"/>
<rect x="1627.4" y="2795.8" width="117.4" height="10.5" fill="#000"/>
<path d="M1628.6 1865.0V2805.8M1743.5 1865.0V2805.8M1627.4 1866.5H1744.8" stroke="#2a2a2a" stroke-width="2.6" fill="none"/>
<path d="M1626.8 1866.3V2805.8" stroke="#c8c8c8" stroke-width="1" fill="none"/>
<path d="M1744.8 1876.3H1766.8M1744.8 1968.2H1766.8M1744.8 2060.2H1766.8M1744.8 2152.2H1766.8M1744.8 2244.1H1766.8M1744.8 2336.1H1766.8M1744.8 2428.0H1766.8M1744.8 2519.9H1766.8M1744.8 2611.9H1766.8M1744.8 2703.8H1766.8M1744.8 2795.8H1766.8" stroke="#222" stroke-width="2.6" fill="none"/>
<g font-size="49.8" fill="#1c1c1c" stroke="#fff" stroke-width=".8"><text x="1784.3" y="1891.9">5320</text><text x="1784.3" y="1983.8">4992</text><text x="1784.3" y="2075.8">4664</text><text x="1784.3" y="2167.7">4336</text><text x="1784.3" y="2259.7">4008</text><text x="1784.3" y="2351.6">3680</text><text x="1784.3" y="2443.6">3352</text><text x="1784.3" y="2535.5">3024</text><text x="1784.3" y="2627.5">2696</text><text x="1784.3" y="2719.4">2368</text><text x="1784.3" y="2811.4">2040</text></g>
<g font-size="83" fill="#000" stroke="#fff" stroke-width="1.1" text-anchor="middle"><text x="966" y="1707"><tspan font-size="88" dy="-1.5">(</tspan><tspan font-weight="bold" stroke="none" dy="1.5">a</tspan><tspan font-size="88" dy="-1.5">)</tspan></text><text x="966.5" y="3411"><tspan font-size="88" dy="-1.5">(</tspan><tspan font-weight="bold" stroke="none" dy="1.5">b</tspan><tspan font-size="88" dy="-1.5">)</tspan></text></g>
</svg>
</body></html>
